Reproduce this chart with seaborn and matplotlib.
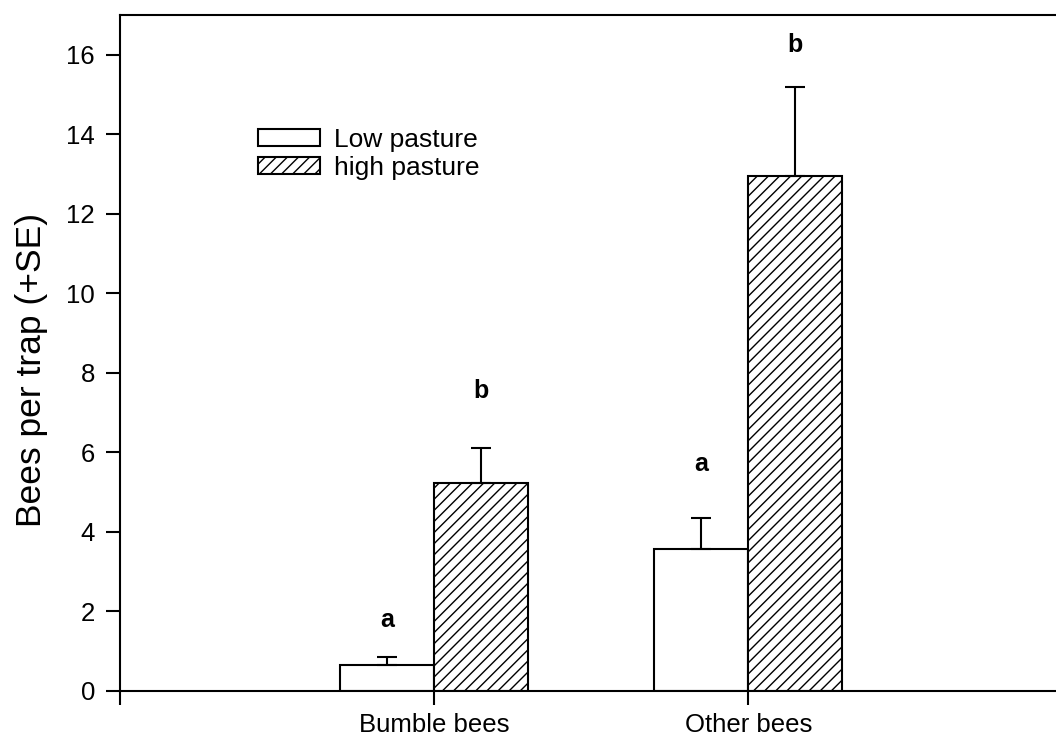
import matplotlib
matplotlib.use("Agg")
import matplotlib.pyplot as plt
import seaborn as sns
import pandas as pd

# ---- data ----
categories = ["Bumble bees", "Other bees"]
treatments = ["Low pasture", "high pasture"]
low_means = [0.65, 3.58]
high_means = [5.22, 12.95]
low_se = [0.20, 0.76]
high_se = [0.90, 2.23]
low_letters = ["a", "a"]
high_letters = ["b", "b"]
low_letter_y = [1.78, 5.70]
high_letter_y = [7.54, 16.25]
yticks = [0, 2, 4, 6, 8, 10, 12, 14, 16]

df = pd.DataFrame({
    "group": categories * 2,
    "treatment": [treatments[0]] * 2 + [treatments[1]] * 2,
    "mean": low_means + high_means,
})

sns.set_theme(style="ticks")
plt.rcParams['font.family'] = ['Liberation Sans', 'DejaVu Sans']
plt.rcParams['hatch.linewidth'] = 1.0
plt.rcParams['hatch.color'] = 'black'
plt.rcParams['text.color'] = 'black'

fig = plt.figure(figsize=(10.56, 7.42), dpi=100)
ax = fig.add_axes([120 / 1056, 51 / 742, 936 / 1056, 676 / 742])

sns.barplot(data=df, x="group", y="mean", hue="treatment",
            order=categories, hue_order=treatments,
            palette=["white", "white"], edgecolor="black", linewidth=1.5,
            width=0.6, gap=0, errorbar=None, ax=ax)

bar_conts = list(ax.containers)
for bar in bar_conts[1]:
    bar.set_hatch("///")

ses = [low_se, high_se]
letters = [low_letters, high_letters]
letter_ys = [low_letter_y, high_letter_y]
for ci, cont in enumerate(bar_conts):
    for bi, bar in enumerate(cont):
        x = bar.get_x() + bar.get_width() / 2
        y = bar.get_height()
        ax.errorbar([x], [y], yerr=[[0], [ses[ci][bi]]], fmt="none",
                    ecolor="black", elinewidth=1.5, capsize=7.5,
                    capthick=1.5, zorder=1)
        ax.text(x, letter_ys[ci][bi], letters[ci][bi], ha="center", va="center",
                fontsize=18, fontweight="bold", color="black")

handles = [bar_conts[0][0], bar_conts[1][0]]
ax.legend(handles=handles, labels=treatments, loc="upper left",
          bbox_to_anchor=(0.147, 0.833), frameon=False, fontsize=19,
          labelcolor="black",
          borderaxespad=0, borderpad=0, handlelength=2.35, handleheight=0.6,
          handletextpad=0.55, labelspacing=0.16)

ax.set_xlim(-1, 1.98)
ax.set_ylim(0, 17)
ax.set_yticks(yticks)
ax.set_xticks([-1, 0, 1], ["", categories[0], categories[1]])
ax.set_xlabel("")
ax.set_ylabel("Bees per trap (+SE)", fontsize=25.5, color="black")
ax.yaxis.set_label_coords(-0.0765, 0.475)
ax.tick_params(axis="both", direction="out", length=10, width=1.5,
               labelsize=18.5, colors="black")
ax.tick_params(axis="x", pad=6)
ax.tick_params(axis="y", pad=8)
ax.spines["right"].set_visible(False)
for s in ["left", "bottom", "top"]:
    ax.spines[s].set_linewidth(1.5)
    ax.spines[s].set_color("black")

fig.savefig("out.png", dpi=100, facecolor="white")
